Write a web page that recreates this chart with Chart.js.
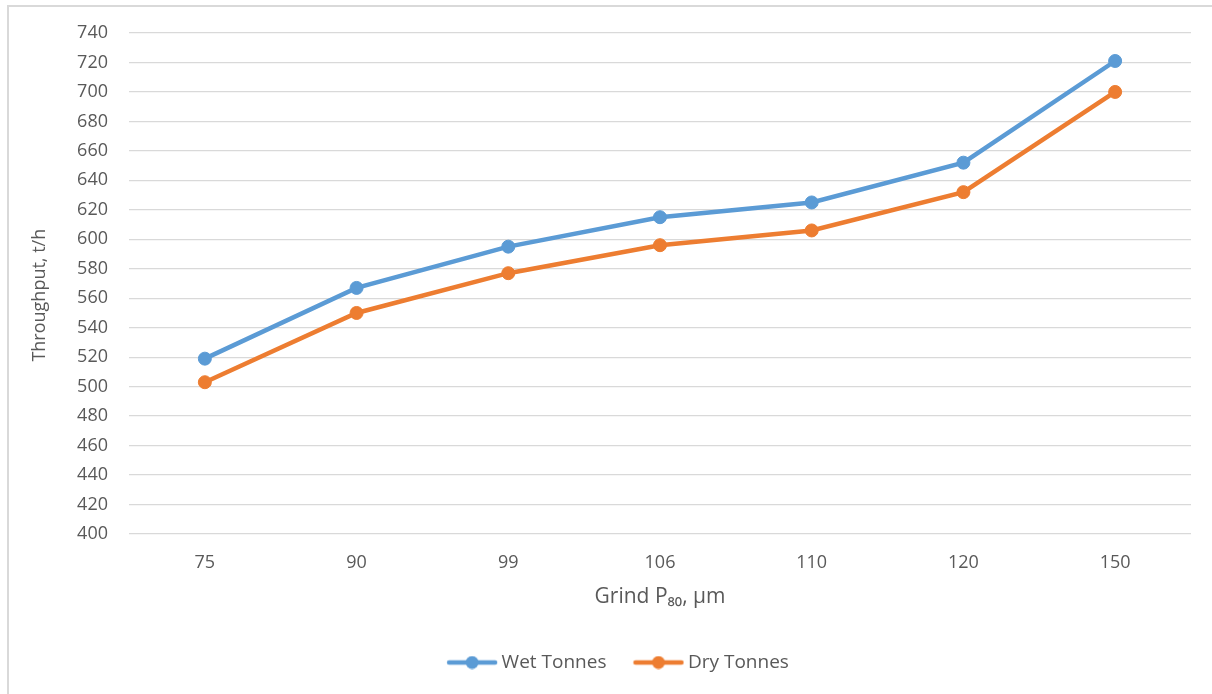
<!DOCTYPE html>
<html>
<head>
<meta charset="utf-8">
<script src="https://cdn.jsdelivr.net/npm/chart.js@4.4.0/dist/chart.umd.min.js"></script>
<style>
  html, body { margin: 0; padding: 0; background: #fff; }
  #frame {
    position: absolute; left: 7px; top: 5px; width: 1400px; height: 900px;
    border-left: 2px solid #d9d9d9; border-top: 2px solid #d9d9d9;
  }
  #chart { position: absolute; left: 0; top: 0; }
</style>
</head>
<body>
<div id="frame"></div>
<canvas id="chart" width="1212" height="694"></canvas>
<script>
const grindSizes = ["75", "90", "99", "106", "110", "120", "150"]
const wetTonnes = [519, 567, 595, 615, 625, 652, 721]
const dryTonnes = [503, 550, 577, 596, 606, 632, 700]
const yMin = 400
const yMax = 740
const yStep = 20

const blue = "#5b9bd5"
const orange = "#ed7d31"
const textColor = "#595959"
const fontFamily = "'Open Sans', sans-serif"

// legend marker: line with a dot, like the office-style legend
function legendMarker(color) {
  const c = document.createElement("canvas")
  c.width = 74
  c.height = 14
  const g = c.getContext("2d")
  g.strokeStyle = color
  g.lineWidth = 4.5
  g.lineCap = "round"
  g.beginPath()
  g.moveTo(25, 7)
  g.lineTo(71, 7)
  g.stroke()
  g.fillStyle = color
  g.beginPath()
  g.arc(48, 7, 6.5, 0, Math.PI * 2)
  g.fill()
  return c
}

const ctx = document.getElementById("chart").getContext("2d")
new Chart(ctx, {
  type: "line",
  data: {
    labels: grindSizes,
    datasets: [
      {
        label: "Wet Tonnes",
        data: wetTonnes,
        borderColor: blue,
        backgroundColor: blue,
        pointBackgroundColor: blue,
        pointBorderColor: blue,
        borderWidth: 4.5,
        pointRadius: 6.5,
        pointBorderWidth: 1,
        tension: 0,
      },
      {
        label: "Dry Tonnes",
        data: dryTonnes,
        borderColor: orange,
        backgroundColor: orange,
        pointBackgroundColor: orange,
        pointBorderColor: orange,
        borderWidth: 4.5,
        pointRadius: 6.5,
        pointBorderWidth: 1,
        tension: 0,
      },
    ],
  },
  options: {
    responsive: false,
    animation: false,
    layout: { padding: { left: 28, right: 21, top: 33, bottom: 12 } },
    plugins: {
      tooltip: { enabled: false },
      legend: {
        position: "bottom",
        labels: {
          color: textColor,
          font: { family: fontFamily, size: 19 },
          usePointStyle: true,
          pointStyleWidth: 62,
          padding: 10,
          generateLabels: (chart) =>
            chart.data.datasets.map((ds, i) => ({
              text: ds.label,
              fontColor: textColor,
              pointStyle: legendMarker(ds.borderColor),
              datasetIndex: i,
              hidden: false,
              lineWidth: 0,
            })),
        },
      },
    },
    scales: {
      x: {
        grid: { display: false, drawTicks: false },
        border: { display: false },
        offset: true,
        ticks: {
          color: textColor,
          font: { family: fontFamily, size: 18 },
          padding: 18,
        },
        title: {
          display: true,
          text: "Grind P\u2088\u2080, \u03bcm",
          color: textColor,
          font: { family: fontFamily, size: 21 },
          padding: { top: 0, bottom: 33 },
        },
        afterFit: (scale) => { scale.height = 109 },
      },
      y: {
        min: yMin,
        max: yMax,
        grid: { color: "#d9d9d9", lineWidth: 1.3, drawTicks: false },
        border: { display: false },
        ticks: {
          stepSize: yStep,
          color: textColor,
          font: { family: fontFamily, size: 18 },
          padding: 21,
        },
        title: {
          display: true,
          text: "Throughput, t/h     ",
          color: textColor,
          font: { family: fontFamily, size: 18 },
          padding: { top: 1, bottom: 0 },
        },
        afterFit: (scale) => { scale.width = 101 },
      },
    },
  },
})
</script>
</body>
</html>
